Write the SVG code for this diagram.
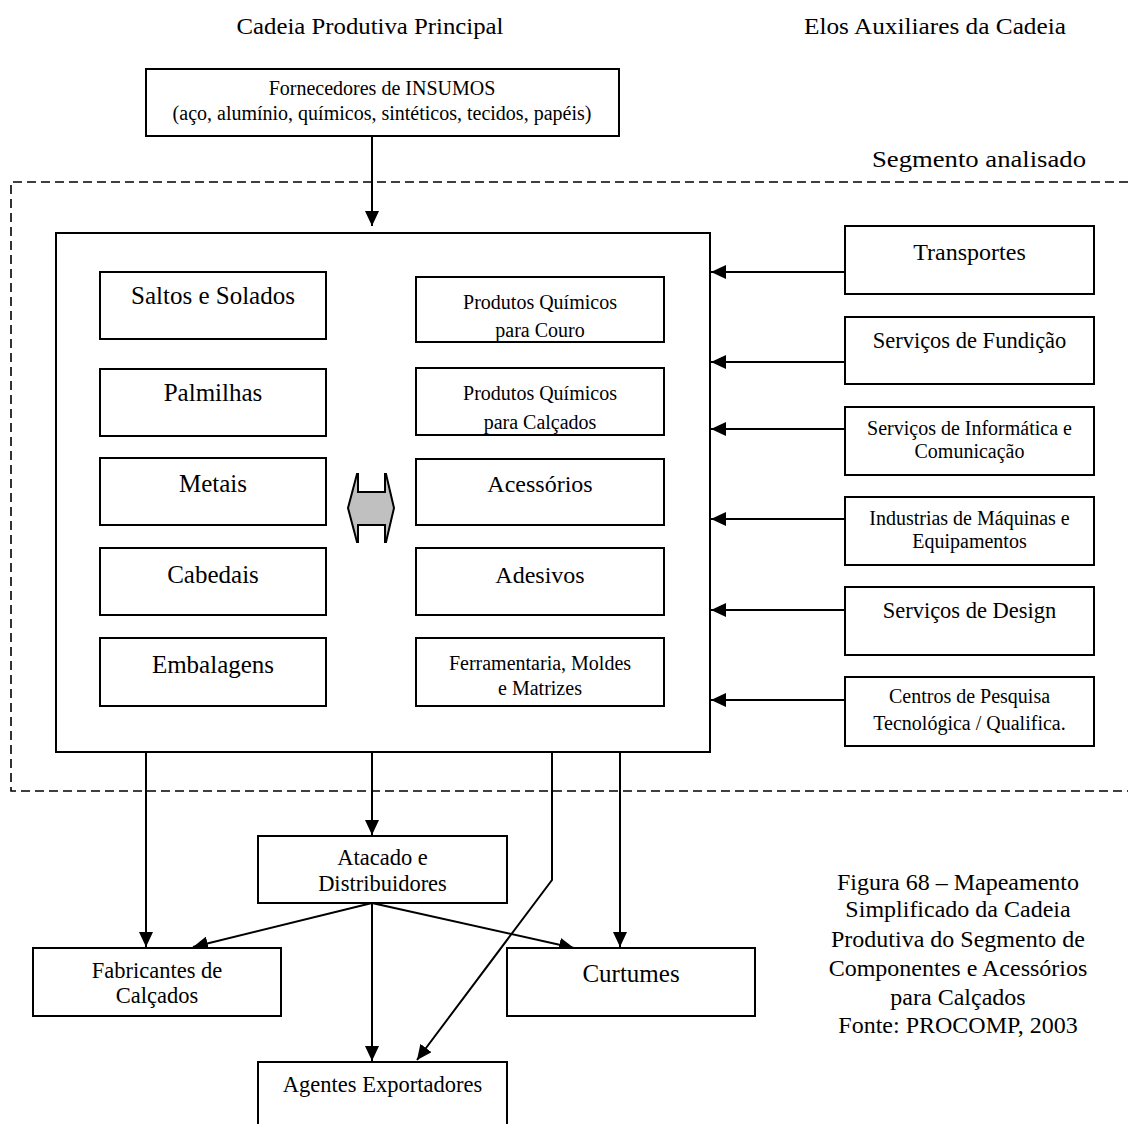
<svg xmlns="http://www.w3.org/2000/svg" width="1128" height="1124" viewBox="0 0 1128 1124">
  <style>
    text { font-family: "Liberation Serif", "Times New Roman", serif; fill: #000; text-anchor: middle; }
    .box { fill: #fff; stroke: #000; stroke-width: 2; }
    .line { fill: none; stroke: #000; stroke-width: 2; }
    .dash { fill: none; stroke: #000; stroke-width: 1.6; stroke-dasharray: 9 5; }
    .t25 { font-size: 25px; }
    .t24 { font-size: 24px; }
    .t22 { font-size: 22.5px; }
    .t20 { font-size: 20px; }
  </style>
  <defs>
    <marker id="arrow" markerUnits="userSpaceOnUse" markerWidth="16" markerHeight="14" refX="15" refY="7" orient="auto">
      <path d="M0,0 L15,7 L0,14 z" fill="#000"/>
    </marker>
  </defs>

  <rect width="1128" height="1124" fill="#fff"/>

  <!-- column headings -->
  <text x="370" y="34" class="t24" textLength="267" lengthAdjust="spacingAndGlyphs">Cadeia Produtiva Principal</text>
  <text x="935" y="34" class="t24" textLength="262" lengthAdjust="spacingAndGlyphs">Elos Auxiliares da Cadeia</text>

  <!-- analysed segment boundary -->
  <g id="segmento">
    <path class="dash" d="M1128,182 H11 V791 H1128"/>
    <text x="979" y="167" class="t24" textLength="214" lengthAdjust="spacingAndGlyphs">Segmento analisado</text>
  </g>

  <!-- connectors -->
  <g id="connectors">
    <line class="line" x1="372" y1="136" x2="372" y2="226" marker-end="url(#arrow)"/>
    <line class="line" x1="845" y1="272" x2="711" y2="272" marker-end="url(#arrow)"/>
    <line class="line" x1="845" y1="362" x2="711" y2="362" marker-end="url(#arrow)"/>
    <line class="line" x1="845" y1="429" x2="711" y2="429" marker-end="url(#arrow)"/>
    <line class="line" x1="845" y1="519" x2="711" y2="519" marker-end="url(#arrow)"/>
    <line class="line" x1="845" y1="610" x2="711" y2="610" marker-end="url(#arrow)"/>
    <line class="line" x1="845" y1="700" x2="711" y2="700" marker-end="url(#arrow)"/>
    <line class="line" x1="146" y1="745" x2="146" y2="947" marker-end="url(#arrow)"/>
    <line class="line" x1="372" y1="745" x2="372" y2="835" marker-end="url(#arrow)"/>
    <line class="line" x1="620" y1="745" x2="620" y2="947" marker-end="url(#arrow)"/>
    <polyline class="line" points="552,745 552,880 417,1060" marker-end="url(#arrow)"/>
    <line class="line" x1="372" y1="903" x2="193" y2="947" marker-end="url(#arrow)"/>
    <line class="line" x1="372" y1="903" x2="574" y2="948" marker-end="url(#arrow)"/>
    <line class="line" x1="372" y1="903" x2="372" y2="1061" marker-end="url(#arrow)"/>
  </g>

  <!-- supplier of inputs -->
  <g id="fornecedores">
    <rect class="box" x="146" y="69" width="473" height="67"/>
    <text x="382" y="95" class="t20">Fornecedores de INSUMOS</text>
    <text x="382" y="120" class="t20">(aço, alumínio, químicos, sintéticos, tecidos, papéis)</text>
  </g>

  <!-- main segment container -->
  <g id="segmento-principal">
    <rect class="box" x="56" y="233" width="654" height="519" fill="none"/>
  </g>

  <g id="saltos">
    <rect class="box" x="100" y="272" width="226" height="67"/>
    <text x="213" y="304" class="t25">Saltos e Solados</text>
  </g>
  <g id="palmilhas">
    <rect class="box" x="100" y="369" width="226" height="67"/>
    <text x="213" y="401" class="t25">Palmilhas</text>
  </g>
  <g id="metais">
    <rect class="box" x="100" y="458" width="226" height="67"/>
    <text x="213" y="492" class="t25">Metais</text>
  </g>
  <g id="cabedais">
    <rect class="box" x="100" y="548" width="226" height="67"/>
    <text x="213" y="583" class="t25">Cabedais</text>
  </g>
  <g id="embalagens">
    <rect class="box" x="100" y="638" width="226" height="68"/>
    <text x="213" y="673" class="t25">Embalagens</text>
  </g>

  <g id="quimicos-couro">
    <rect class="box" x="416" y="277" width="248" height="65"/>
    <text x="540" y="309" class="t20">Produtos Químicos</text>
    <text x="540" y="337" class="t20">para Couro</text>
  </g>
  <g id="quimicos-calcados">
    <rect class="box" x="416" y="368" width="248" height="67"/>
    <text x="540" y="400" class="t20">Produtos Químicos</text>
    <text x="540" y="429" class="t20">para Calçados</text>
  </g>
  <g id="acessorios">
    <rect class="box" x="416" y="459" width="248" height="66"/>
    <text x="540" y="492" class="t24">Acessórios</text>
  </g>
  <g id="adesivos">
    <rect class="box" x="416" y="548" width="248" height="67"/>
    <text x="540" y="583" class="t24">Adesivos</text>
  </g>
  <g id="ferramentaria">
    <rect class="box" x="416" y="638" width="248" height="68"/>
    <text x="540" y="670" class="t20">Ferramentaria, Moldes</text>
    <text x="540" y="695" class="t20">e Matrizes</text>
  </g>

  <!-- two-way exchange between the component groups -->
  <g id="troca">
    <polygon points="348,508 357,474 358,474 358,492 385,492 385,474 386,474 394,508 386,542 385,542 385,525 358,525 358,542 357,542" fill="#c0c0c0" stroke="#000" stroke-width="2" stroke-linejoin="miter"/>
  </g>

  <!-- auxiliary links -->
  <g id="transportes">
    <rect class="box" x="845" y="226" width="249" height="68"/>
    <text x="969.5" y="260" class="t24">Transportes</text>
  </g>
  <g id="fundicao">
    <rect class="box" x="845" y="317" width="249" height="67"/>
    <text x="969.5" y="348" class="t22">Serviços de Fundição</text>
  </g>
  <g id="informatica">
    <rect class="box" x="845" y="407" width="249" height="68"/>
    <text x="969.5" y="435" class="t20">Serviços de Informática e</text>
    <text x="969.5" y="458" class="t20">Comunicação</text>
  </g>
  <g id="maquinas">
    <rect class="box" x="845" y="497" width="249" height="68"/>
    <text x="969.5" y="525" class="t20">Industrias de Máquinas e</text>
    <text x="969.5" y="548" class="t20">Equipamentos</text>
  </g>
  <g id="design">
    <rect class="box" x="845" y="587" width="249" height="68"/>
    <text x="969.5" y="618" class="t22">Serviços de Design</text>
  </g>
  <g id="pesquisa">
    <rect class="box" x="845" y="677" width="249" height="69"/>
    <text x="969.5" y="703" class="t20">Centros de Pesquisa</text>
    <text x="969.5" y="730" class="t20">Tecnológica / Qualifica.</text>
  </g>

  <!-- downstream -->
  <g id="atacado">
    <rect class="box" x="258" y="836" width="249" height="67"/>
    <text x="382.5" y="865" class="t22">Atacado e</text>
    <text x="382.5" y="891" class="t22">Distribuidores</text>
  </g>
  <g id="fabricantes">
    <rect class="box" x="33" y="948" width="248" height="68"/>
    <text x="157" y="978" class="t22">Fabricantes de</text>
    <text x="157" y="1003" class="t22">Calçados</text>
  </g>
  <g id="curtumes">
    <rect class="box" x="507" y="948" width="248" height="68"/>
    <text x="631" y="982" class="t25">Curtumes</text>
  </g>
  <g id="exportadores">
    <rect class="box" x="258" y="1062" width="249" height="70"/>
    <text x="382.5" y="1092" class="t22">Agentes Exportadores</text>
  </g>

  <!-- figure caption -->
  <g id="legenda" class="t24">
    <text x="958" y="890">Figura 68 – Mapeamento</text>
    <text x="958" y="917">Simplificado da Cadeia</text>
    <text x="958" y="947">Produtiva do Segmento de</text>
    <text x="958" y="976">Componentes e Acessórios</text>
    <text x="958" y="1005">para Calçados</text>
    <text x="958" y="1033">Fonte: PROCOMP, 2003</text>
  </g>
</svg>
